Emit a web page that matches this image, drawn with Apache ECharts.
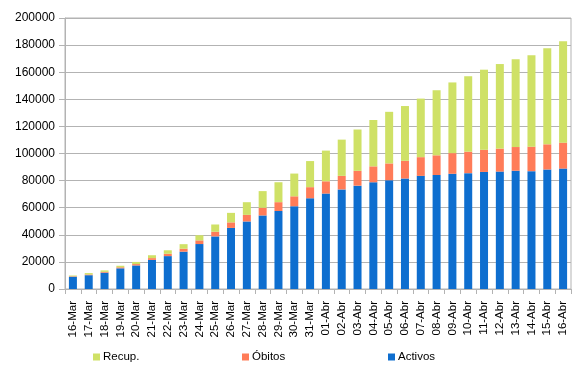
<!DOCTYPE html>
<html>
<head>
<meta charset="utf-8">
<script src="https://cdn.jsdelivr.net/npm/echarts@6/dist/echarts.min.js"></script>
<style>html,body{margin:0;padding:0;background:#fff}#c{width:580px;height:373px}</style>
</head>
<body>
<div id="c"></div>
<script>
const categories = ['16-Mar','17-Mar','18-Mar','19-Mar','20-Mar','21-Mar','22-Mar','23-Mar','24-Mar','25-Mar','26-Mar','27-Mar','28-Mar','29-Mar','30-Mar','31-Mar','01-Abr','02-Abr','03-Abr','04-Abr','05-Abr','06-Abr','07-Abr','08-Abr','09-Abr','10-Abr','11-Abr','12-Abr','13-Abr','14-Abr','15-Abr','16-Abr'];
const activos = [9070,10187,12037,15273,17390,21475,24277,27552,33183,38809,45084,49844,54273,57560,61075,66969,70436,73492,76262,78773,80261,81540,83504,84114,85043,85511,86390,86656,87280,86981,88201,88889];
const obitos = [342,533,598,767,1002,1326,1720,2182,2696,3434,4089,4858,5690,6528,7340,8189,9053,10003,10935,11744,12418,13055,13798,14555,15238,15843,16353,16972,17489,18056,18579,19130];
const recup = [530,1028,1081,1107,1588,2125,2575,3355,3794,5367,7015,9357,12285,14709,16780,19259,22647,26743,30513,34219,38080,40437,43208,48021,52165,55668,59109,62391,64727,67504,70853,74797];
const yTicks = {min: 0, max: 200000, interval: 20000};

const colors = {activos: '#0e6ecf', obitos: '#ff7c58', recup: '#cfe166'};
const font = 'Liberation Sans, Arial, sans-serif';
const chart = echarts.init(document.getElementById('c'), null, {renderer: 'canvas'});
const legendBase = {
  bottom: 5, icon: 'rect', itemWidth: 7, itemHeight: 7, itemGap: 0,
  textStyle: {fontFamily: font, fontSize: 11.5, color: '#000', padding: [0,0,0,-2]},
  selectedMode: false
};
chart.setOption({
  animation: false,
  textStyle: {fontFamily: font},
  grid: {left: 65, right: 9, top: 18, bottom: 84, show: true, borderColor: '#b3b3b3', borderWidth: 1},
  legend: [
    Object.assign({}, legendBase, {left: 88, data: ['Recup.']}),
    Object.assign({}, legendBase, {left: 237, data: ['Óbitos']}),
    Object.assign({}, legendBase, {left: 383, data: ['Activos']})
  ],
  xAxis: {
    type: 'category', data: categories, boundaryGap: true,
    axisLine: {lineStyle: {color: '#b3b3b3'}},
    axisTick: {show: true, length: 5, lineStyle: {color: '#b3b3b3'}},
    axisLabel: {rotate: 90, interval: 0, margin: 12, fontSize: 11.5, color: '#000', fontFamily: font}
  },
  yAxis: {
    type: 'value', min: yTicks.min, max: yTicks.max, interval: yTicks.interval,
    axisLine: {show: true, lineStyle: {color: '#b3b3b3'}},
    axisTick: {show: true, length: 6, lineStyle: {color: '#b3b3b3'}},
    axisLabel: {margin: 10, fontSize: 12, color: '#000', fontFamily: font, formatter: v => String(v)},
    splitLine: {lineStyle: {color: '#b3b3b3'}}
  },
  series: [
    {name: 'Activos', type: 'bar', stack: 't', data: activos, barWidth: 8, itemStyle: {color: colors.activos}},
    {name: 'Óbitos', type: 'bar', stack: 't', data: obitos, barWidth: 8, itemStyle: {color: colors.obitos}},
    {name: 'Recup.', type: 'bar', stack: 't', data: recup, barWidth: 8, itemStyle: {color: colors.recup}}
  ]
});
</script>
</body>
</html>
